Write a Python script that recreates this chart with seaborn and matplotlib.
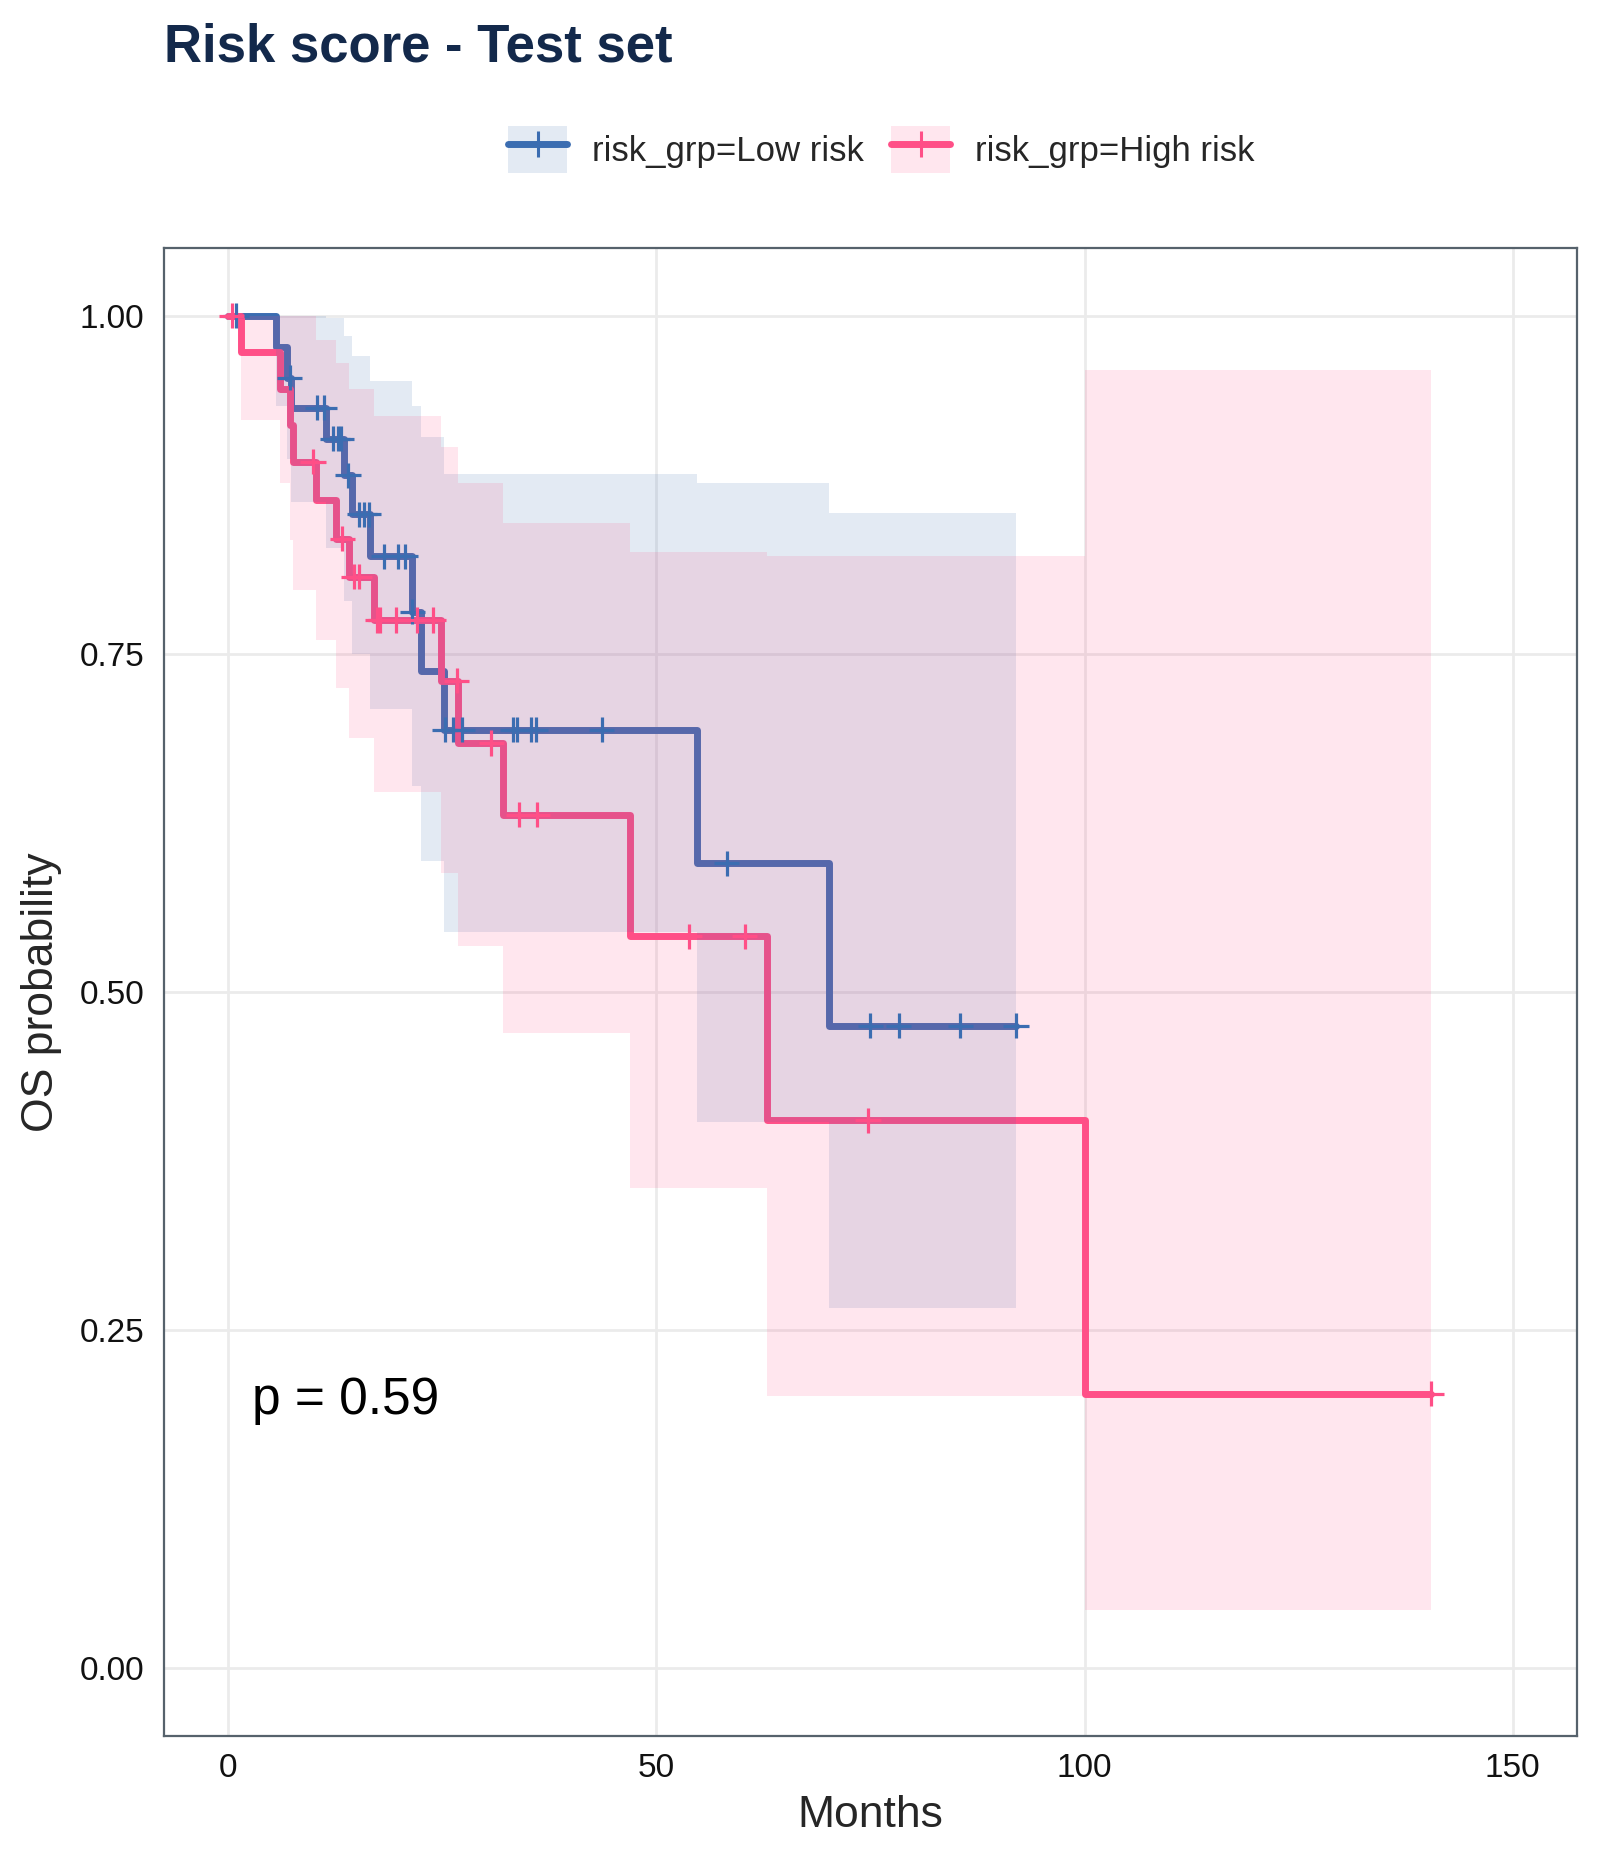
import numpy as np
import pandas as pd
import matplotlib
matplotlib.use('Agg')
import matplotlib.pyplot as plt
import seaborn as sns
from matplotlib.patches import Patch
from matplotlib.lines import Line2D

# Kaplan-Meier steps
lo_time  = [0, 5.6, 6.9, 7.3, 11.4, 13.5, 14.5, 16.5, 21.5, 22.5, 25.2, 54.7, 70.2]
lo_surv  = [1.0, 0.977, 0.954, 0.932, 0.909, 0.882, 0.853, 0.822, 0.781, 0.737, 0.694, 0.595, 0.475]
lo_lower = [1.0, 0.933, 0.894, 0.862, 0.828, 0.789, 0.750, 0.709, 0.652, 0.597, 0.544, 0.404, 0.266]
lo_upper = [1.0, 1.0, 1.0, 1.0, 0.998, 0.985, 0.970, 0.952, 0.933, 0.910, 0.883, 0.876, 0.854]
lo_end   = 92.0
lo_censor = [0.9, 7.2, 10.4, 11.2, 12.2, 12.8, 13.2, 14.0, 15.3, 15.9, 16.4, 18.2, 19.8,
             20.7, 21.5, 25.3, 26.3, 27.3, 33.2, 33.7, 35.4, 35.9, 43.6, 58.2, 75.0,
             78.3, 85.5, 92.0]

hi_time  = [0, 1.5, 6.0, 7.2, 7.6, 10.2, 12.6, 14.1, 17.0, 24.8, 26.8, 32.1, 46.9, 62.9, 100.1]
hi_surv  = [1.0, 0.973, 0.946, 0.919, 0.892, 0.864, 0.835, 0.807, 0.775, 0.730, 0.684,
            0.631, 0.541, 0.405, 0.203]
hi_lower = [1.0, 0.923, 0.876, 0.834, 0.797, 0.760, 0.725, 0.688, 0.648, 0.588, 0.534,
            0.470, 0.355, 0.201, 0.043]
hi_upper = [1.0, 1.0, 1.0, 1.0, 1.0, 0.982, 0.965, 0.946, 0.926, 0.903, 0.876,
            0.847, 0.825, 0.822, 0.960]
hi_end   = 140.5
hi_censor = [0.4, 9.9, 13.3, 14.7, 15.3, 17.4, 17.75, 19.6, 22.1, 23.9, 26.7, 30.7,
             33.9, 36.1, 53.8, 60.3, 74.7, 140.5]

groups = ["risk_grp=Low risk", "risk_grp=High risk"]
colors = ["#3B6DB1", "#FF4F87"]
pval_text = "p = 0.59"

curves = [
    (lo_time, lo_surv, lo_lower, lo_upper, lo_end, lo_censor),
    (hi_time, hi_surv, hi_lower, hi_upper, hi_end, hi_censor),
]

line_rows, cens_rows = [], []
for g, (t, s, lo, up, end, cens) in zip(groups, curves):
    for ti, si in zip(list(t) + [end], list(s) + [s[-1]]):
        line_rows.append((g, ti, si))
    for c in cens:
        idx = np.searchsorted(t, c, side='right') - 1
        cens_rows.append((g, c, s[idx]))
lines_df = pd.DataFrame(line_rows, columns=['group', 'time', 'surv'])
cens_df = pd.DataFrame(cens_rows, columns=['group', 'time', 'surv'])
pal = dict(zip(groups, colors))

sns.set_style("white")
plt.rcParams['font.family'] = ['Liberation Sans', 'DejaVu Sans']

fig = plt.figure(figsize=(16, 18.67), dpi=100)
ax = fig.add_axes([0.1025, 0.0702, 0.8831, 0.7970])

sns.lineplot(data=lines_df, x='time', y='surv', hue='group', palette=pal,
             drawstyle='steps-post', estimator=None, legend=False, ax=ax, zorder=2)
for ln in ax.get_lines():
    ln.set_linewidth(5.0)
    ln.set_solid_joinstyle('round')

for i, (g, (t, s, lo, up, end, cens)) in enumerate(zip(groups, curves)):
    tt = list(t) + [end]
    ax.fill_between(tt, list(lo) + [lo[-1]], list(up) + [up[-1]], step='post',
                    color=colors[i], alpha=0.14, linewidth=0, zorder=2.1 + 0.1 * i)

sns.scatterplot(data=cens_df, x='time', y='surv', hue='group', palette=pal,
                marker='+', s=330, linewidth=2.3, legend=False, ax=ax, zorder=3)

ax.text(2.8, 0.198, pval_text, fontsize=37, va='center', ha='left', color='black')

ax.set_xlim(-7.5, 157.5)
ax.set_ylim(-0.05, 1.05)
ax.set_xticks([0, 50, 100, 150])
ax.set_yticks([0, 0.25, 0.5, 0.75, 1.0])
ax.set_yticklabels([f"{v:.2f}" for v in [0, 0.25, 0.5, 0.75, 1.0]])
ax.grid(True, color='#EBEBEB', linewidth=2.0)
ax.set_axisbelow(True)
for sp in ax.spines.values():
    sp.set_color('#56626C')
    sp.set_linewidth(1.6)
ax.tick_params(axis='both', length=8, width=2.2, color='black', labelsize=24,
               labelcolor='#111111')
ax.tick_params(axis='y', pad=6)
ax.tick_params(axis='x', pad=4)
ax.set_xlabel("Months", fontsize=32)
ax.set_ylabel("OS probability", fontsize=32)
ax.xaxis.set_label_coords(0.5, -0.040)
ax.yaxis.set_label_coords(-0.072, 0.5)

fig.text(0.1025, 0.9668, "Risk score - Test set", fontsize=38, fontweight='bold',
         color='#13294B', ha='left', va='baseline')

handles = []
for c in colors:
    handles.append((Patch(facecolor=c, alpha=0.14, linewidth=0),
                    Line2D([], [], color=c, linewidth=5.0, marker='+',
                           markersize=19, markeredgewidth=2.2)))
fig.legend(handles, groups, loc='center', bbox_to_anchor=(0.551, 0.9197), ncol=2,
           frameon=False, fontsize=25, handlelength=1.7, handleheight=1.7,
           handletextpad=0.72, columnspacing=0.78, borderpad=0)

plt.savefig("out.png", dpi=100)
plt.close()
